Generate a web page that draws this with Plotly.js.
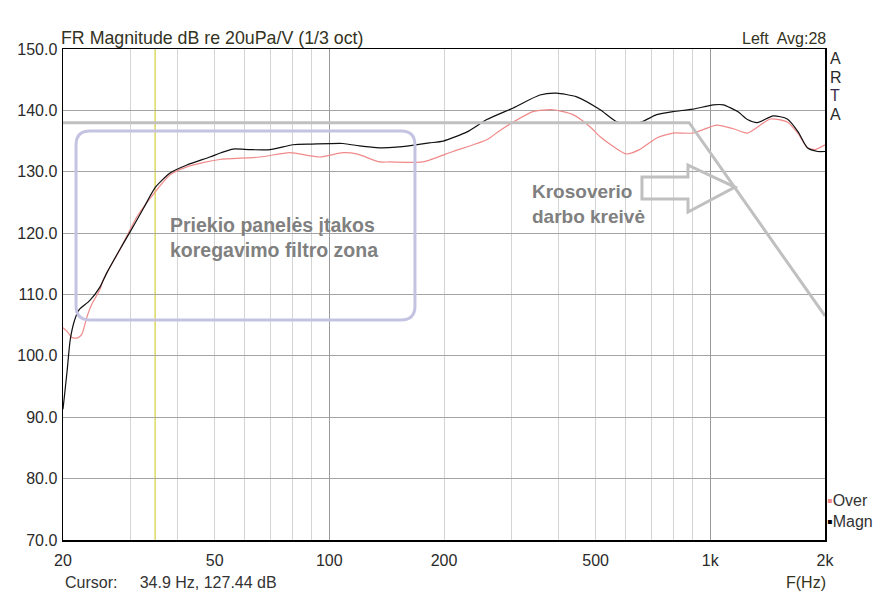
<!DOCTYPE html>
<html>
<head>
<meta charset="utf-8">
<script src="https://cdn.plot.ly/plotly-3.0.1.min.js"></script>
<style>
  html, body { margin: 0; padding: 0; background: #fff; }
  #chart { width: 895px; height: 597px; }
</style>
</head>
<body>
<div id="chart"></div>
<script>
// Magnitude curve (black)
const magnFreq = [20, 20.5, 20.9, 21.5, 22.1, 23.5, 25.0, 26.1, 28.0, 30.0, 32.5, 34.9, 38.2, 42.3, 48.6,
  52, 55.9, 62, 69.9, 80.2, 90, 108.6, 120, 135.6, 150, 165, 183, 199, 230, 259, 304, 357, 394, 446,
  514, 570, 652, 723, 798, 900, 1018, 1082, 1180, 1252, 1329, 1462, 1592, 1700, 1798, 1912, 2000];
const magnDb = [91.3, 97.5, 102.7, 106.0, 107.6, 109.0, 111.2, 113.6, 117.0, 120.2, 124.0, 127.4, 129.8, 131.1, 132.4,
  133.1, 133.7, 133.6, 133.6, 134.4, 134.5, 134.6, 134.2, 133.9, 134.0, 134.3, 134.7, 135.0, 136.5, 138.5, 140.4, 142.5, 142.8, 142.2,
  140.1, 138.1, 138.0, 139.3, 139.8, 140.2, 140.9, 140.9, 139.8, 138.5, 138.0, 139.1, 138.6, 136.5, 133.9, 133.3, 133.3];

// "Over" curve (pink)
const overFreq = [20, 20.5, 21.1, 21.8, 22.4, 23.1, 23.8, 25.0, 25.5, 28.2, 31.3, 35.3, 38.2, 42.3, 46.6,
  51.6, 65.8, 78.8, 94.4, 108.6, 118, 135.6, 144, 176, 211, 259, 280, 304, 342, 386, 436, 484, 514,
  560, 602, 652, 723, 798, 900, 1040, 1150, 1252, 1438, 1592, 1700, 1798, 1880, 2000];
const overDb = [104.6, 104.0, 103.0, 102.9, 103.5, 106.3, 108.4, 110.8, 112.4, 117.3, 122.7, 127.1, 129.5, 130.8, 131.5,
  132.0, 132.4, 133.1, 132.4, 133.1, 132.9, 131.6, 131.6, 131.6, 133.3, 135.2, 136.7, 138.1, 139.8, 140.1, 139.3, 137.3, 135.7,
  134.0, 132.9, 133.6, 135.5, 136.3, 136.3, 137.6, 137.0, 136.3, 138.6, 138.1, 136.2, 133.9, 133.6, 134.4];

// hand drawn crossover target curve (grey)
const crossFreq = [20, 880, 2000];
const crossDb = [138.0, 138.0, 106.5];

const xTickVals = [20, 50, 100, 200, 500, 1000, 2000];
const xTickText = ['20', '50', '100', '200', '500', '1k', '2k'];
const xMinorVals = [30, 40, 60, 70, 80, 90, 300, 400, 600, 700, 800, 900];
const xMajorGrid = [100, 1000];

const cursorFreq = 34.9;
const cursorDb = 127.44;

const brandLetters = ['A', 'R', 'T', 'A'];

// plot area in pixels, used to place the painted overlays
const L = 63, R = 825, T = 49, B = 540;
const px = x => ((x - L) / (R - L)).toFixed(4);
const py = y => ((B - y) / (B - T)).toFixed(4);

function roundRect(x0, y0, x1, y1, r) {
  return 'M' + px(x0 + r) + ',' + py(y0) +
    ' L' + px(x1 - r) + ',' + py(y0) +
    ' Q' + px(x1) + ',' + py(y0) + ' ' + px(x1) + ',' + py(y0 + r) +
    ' L' + px(x1) + ',' + py(y1 - r) +
    ' Q' + px(x1) + ',' + py(y1) + ' ' + px(x1 - r) + ',' + py(y1) +
    ' L' + px(x0 + r) + ',' + py(y1) +
    ' Q' + px(x0) + ',' + py(y1) + ' ' + px(x0) + ',' + py(y1 - r) +
    ' L' + px(x0) + ',' + py(y0 + r) +
    ' Q' + px(x0) + ',' + py(y0) + ' ' + px(x0 + r) + ',' + py(y0) + ' Z';
}

function arrowPath(pts) {
  return pts.map((p, i) => (i ? 'L' : 'M') + px(p[0]) + ',' + py(p[1])).join(' ') + ' Z';
}

const font = 'Arial, "Liberation Sans", sans-serif';
const textColor = '#2a2a2a';
const paintGrey = '#c0c0c0';

const traces = [
  {
    x: overFreq, y: overDb, type: 'scatter', mode: 'lines', name: 'Over',
    line: { color: '#f08a8a', width: 1.2, shape: 'spline', smoothing: 0.6 },
    hoverinfo: 'skip'
  },
  {
    x: magnFreq, y: magnDb, type: 'scatter', mode: 'lines', name: 'Magn',
    line: { color: '#111111', width: 1.2, shape: 'spline', smoothing: 0.6 },
    hoverinfo: 'skip'
  },
  {
    x: crossFreq, y: crossDb, type: 'scatter', mode: 'lines', name: 'cross',
    line: { color: paintGrey, width: 3 },
    hoverinfo: 'skip'
  },
  // only here to carry the darker 100 / 1k grid lines
  {
    x: [20, 2000], y: [70, 70], xaxis: 'x2', type: 'scatter', mode: 'lines',
    line: { width: 0 }, hoverinfo: 'skip'
  }
];

const annotations = [
  {
    text: 'FR Magnitude dB re 20uPa/V (1/3 oct)', xref: 'paper', yref: 'paper', x: 0, y: 1,
    xanchor: 'left', yanchor: 'bottom', xshift: -4, yshift: -1, showarrow: false,
    font: { size: 17.8, color: '#333322' }
  },
  {
    text: 'Left  Avg:28', xref: 'paper', yref: 'paper', x: 1, y: 1,
    xanchor: 'right', yanchor: 'bottom', xshift: 3, yshift: 0, showarrow: false,
    font: { size: 16, color: '#333322' }
  },
  {
    text: '<span style="color:#f08a8a">▪</span>Over<br><span style="color:#000">▪</span>Magn',
    xref: 'paper', yref: 'paper', x: 1, y: 0, align: 'left',
    xanchor: 'left', yanchor: 'bottom', xshift: 0, yshift: 8, showarrow: false,
    font: { size: 16, color: '#333333' }
  },
  {
    text: 'Cursor:     ' + cursorFreq.toFixed(1) + ' Hz, ' + cursorDb.toFixed(2) + ' dB',
    xref: 'paper', yref: 'paper', x: 0, y: 0, xanchor: 'left', yanchor: 'top',
    xshift: 0, yshift: -32, showarrow: false, font: { size: 16, color: '#333333' }
  },
  {
    text: 'F(Hz)', xref: 'paper', yref: 'paper', x: 1, y: 0, xanchor: 'right', yanchor: 'top',
    xshift: 3, yshift: -32, showarrow: false, font: { size: 16, color: '#333322' }
  },
  {
    text: '<b>Priekio panelės įtakos<br>koregavimo filtro zona</b>', xref: 'paper', yref: 'paper',
    x: +px(168), y: +py(238), xanchor: 'left', yanchor: 'middle', align: 'left', showarrow: false,
    font: { size: 19.5, color: '#808080' }
  },
  {
    text: '<b>Krosoverio<br>darbo kreivė</b>', xref: 'paper', yref: 'paper',
    x: +px(530), y: +py(204), xanchor: 'left', yanchor: 'middle', align: 'left', showarrow: false,
    font: { size: 19, color: '#808080' }
  }
];

// stacked A R T A logo at the right of the frame
brandLetters.forEach((ch, i) => {
  annotations.push({
    text: ch, xref: 'paper', yref: 'paper', x: 1, y: 1,
    xanchor: 'left', yanchor: 'middle', xshift: 3, yshift: -9.5 - i * 18.7, showarrow: false,
    font: { size: 16, color: i === 2 ? '#3a2a4a' : '#2a2a2a' }
  });
});

const layout = {
  width: 895,
  height: 597,
  margin: { l: L, r: 895 - R, t: T, b: 597 - B },
  paper_bgcolor: '#ffffff',
  plot_bgcolor: '#ffffff',
  showlegend: false,
  font: { family: font, size: 15, color: textColor },
  xaxis: {
    type: 'log',
    range: [Math.log10(20), Math.log10(2000)],
    tickmode: 'array',
    tickvals: xTickVals,
    ticktext: xTickText,
    ticks: '',
    ticklabelstandoff: 5,
    showgrid: true,
    gridcolor: '#d4d4d4',
    gridwidth: 1,
    minor: { tickmode: 'array', tickvals: xMinorVals, showgrid: true, gridcolor: '#d4d4d4', gridwidth: 1, ticks: '' },
    showline: true,
    linecolor: '#000000',
    linewidth: 1.5,
    mirror: true,
    zeroline: false,
    tickfont: { size: 16, color: textColor },
    fixedrange: true
  },
  xaxis2: {
    type: 'log',
    overlaying: 'x',
    range: [Math.log10(20), Math.log10(2000)],
    tickmode: 'array',
    tickvals: xMajorGrid,
    showticklabels: false,
    ticks: '',
    showgrid: true,
    gridcolor: '#9a9a9a',
    layer: 'below traces',
    fixedrange: true
  },
  yaxis: {
    range: [70, 150],
    dtick: 10,
    tick0: 70,
    tickformat: '.1f',
    ticks: '',
    ticklabelstandoff: 1,
    showgrid: true,
    gridcolor: '#a4a4a4',
    showline: true,
    linecolor: '#000000',
    linewidth: 1.5,
    mirror: true,
    zeroline: false,
    tickfont: { size: 16, color: textColor },
    fixedrange: true
  },
  shapes: [
    // cursor
    {
      type: 'line', xref: 'x', yref: 'paper', x0: cursorFreq, x1: cursorFreq, y0: 0, y1: 1,
      line: { color: '#d4d040', width: 1.2 }, layer: 'below'
    },
    // zone box
    {
      type: 'path', xref: 'paper', yref: 'paper',
      path: roundRect(76, 131, 415, 320, 14),
      line: { color: '#c4c4e2', width: 3 }
    },
    // outline arrow
    {
      type: 'path', xref: 'paper', yref: 'paper',
      path: arrowPath([[642, 177], [688, 177], [688, 165], [735, 187], [688, 212], [688, 199], [642, 199]]),
      line: { color: paintGrey, width: 3 }
    }
  ],
  annotations: annotations
};

Plotly.newPlot('chart', traces, layout, { displayModeBar: false, staticPlot: true });
</script>
</body>
</html>
